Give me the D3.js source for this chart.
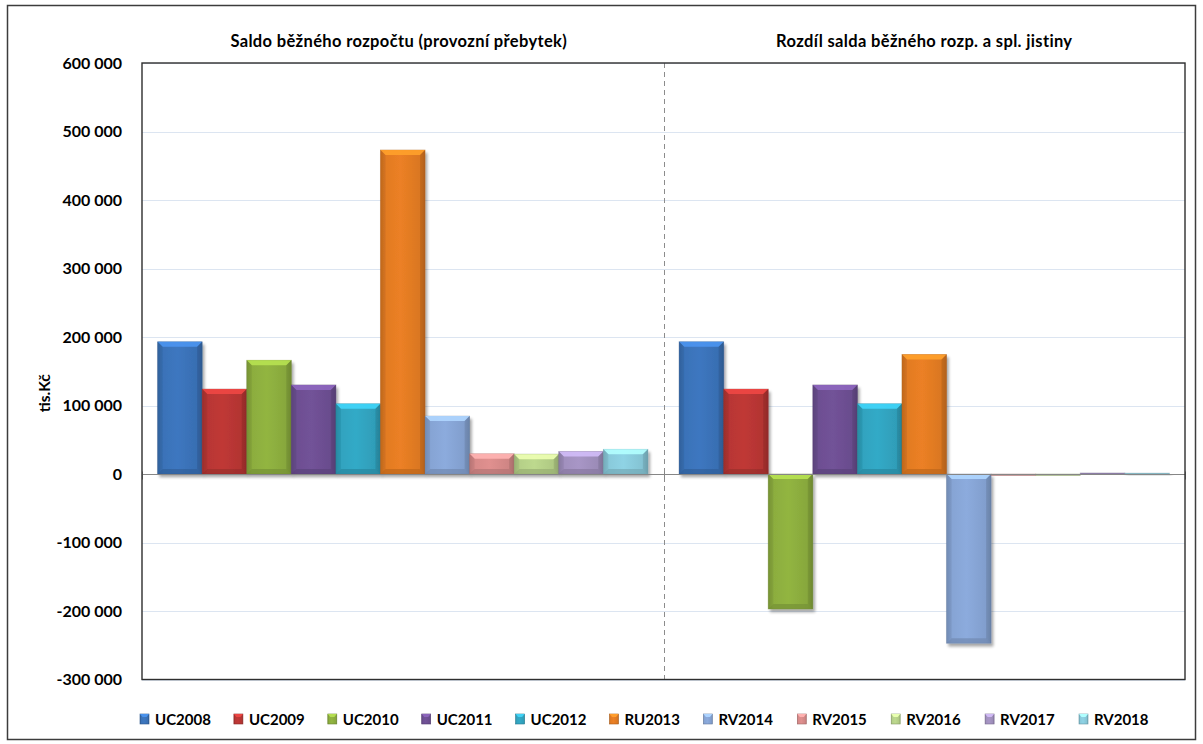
<!DOCTYPE html>
<html>
<head>
<meta charset="utf-8">
<script src="https://cdn.jsdelivr.net/npm/d3@7"></script>
<style>
  html, body { margin: 0; padding: 0; background: #fff; }
  svg { display: block; font-family: Lato, "Open Sans", "DejaVu Sans", sans-serif; font-weight: 700; }
</style>
</head>
<body>
<svg id="chart" width="1203" height="744"></svg>
<script>
// Panels (categories) of the clustered column chart
const categories = ["Saldo běžného rozpočtu (provozní přebytek)", "Rozdíl salda běžného rozp. a spl. jistiny"];
// Series names, one column per series in each panel
const seriesNames = ["UC2008", "UC2009", "UC2010", "UC2011", "UC2012", "RU2013", "RV2014", "RV2015", "RV2016", "RV2017", "RV2018"];
// Values in tis. Kč, per series: [provozní přebytek, rozdíl po splátkách jistiny]
const UC2008 = [193000, 193000];
const UC2009 = [124000, 124000];
const UC2010 = [166000, -197000];
const UC2011 = [130000, 130000];
const UC2012 = [102500, 102500];
const RU2013 = [473000, 174500];
const RV2014 = [84500, -247000];
const RV2015 = [29500, -1800];
const RV2016 = [29000, -2200];
const RV2017 = [33000, 1500];
const RV2018 = [36000, 1200];
const seriesValues = [UC2008, UC2009, UC2010, UC2011, UC2012, RU2013, RV2014, RV2015, RV2016, RV2017, RV2018];
// Value-axis ticks and title
const yTicks = [-300000, -200000, -100000, 0, 100000, 200000, 300000, 400000, 500000, 600000];
const yTitle = "tis.Kč";
// Base fill colours of the series
const seriesColors = ["#3a72b8", "#b83634", "#8cad3e", "#6d4f92", "#31a3bf", "#e27b23", "#86a4d4", "#d78a89", "#b5d088", "#a190be", "#89cadb"];

const svg = d3.select("#chart");
const plot = { left: 142, right: 1185, top: 63, bottom: 679.5 };

const fmt = v => {
  const s = d3.format(",")(Math.abs(v)).replace(/,/g, " ");
  return (v < 0 ? "-" : "") + s;
};

const y = d3.scaleLinear().domain([-300000, 600000]).range([plot.bottom, plot.top]);
const x0 = d3.scaleBand().domain(categories).range([plot.left, plot.right]).paddingInner(0).paddingOuter(0);
const x1 = d3.scaleBand().domain(seriesNames).range([0, x0.bandwidth()]).paddingInner(0).paddingOuter(0.35);

const defs = svg.append("defs");
const shadow = defs.append("filter").attr("id", "shadow").attr("x", "-20%").attr("y", "-20%").attr("width", "150%").attr("height", "150%");
shadow.append("feGaussianBlur").attr("in", "SourceAlpha").attr("stdDeviation", 1.6).attr("result", "b");
shadow.append("feOffset").attr("in", "b").attr("dx", 2).attr("dy", 3).attr("result", "o");
shadow.append("feComponentTransfer").attr("in", "o").attr("result", "s")
  .append("feFuncA").attr("type", "linear").attr("slope", 0.35);
const merge = shadow.append("feMerge");
merge.append("feMergeNode").attr("in", "s");
merge.append("feMergeNode").attr("in", "SourceGraphic");

seriesColors.forEach((c, i) => {
  const base = d3.color(c);
  const g = defs.append("linearGradient").attr("id", "grad" + i).attr("x1", "0").attr("x2", "1").attr("y1", "0").attr("y2", "0");
  g.append("stop").attr("offset", "0%").attr("stop-color", base.darker(0.55));
  g.append("stop").attr("offset", "12%").attr("stop-color", base);
  g.append("stop").attr("offset", "45%").attr("stop-color", base.brighter(0.12));
  g.append("stop").attr("offset", "88%").attr("stop-color", base.darker(0.1));
  g.append("stop").attr("offset", "100%").attr("stop-color", base.darker(0.6));
});

// Outer chart frame
svg.append("rect").attr("x", 7.5).attr("y", 5.5).attr("width", 1188).attr("height", 734)
  .attr("fill", "#fff").attr("stroke", "#3c3c3c").attr("stroke-width", 1.5);

// Gridlines
svg.append("g").selectAll("line").data(yTicks).join("line")
  .attr("x1", plot.left).attr("x2", plot.right)
  .attr("y1", d => Math.round(y(d)) + 0.5).attr("y2", d => Math.round(y(d)) + 0.5)
  .attr("stroke", "#dce5f1").attr("stroke-width", 1.2);

// Divider between panels
svg.append("line")
  .attr("x1", Math.round(x0(categories[1])) + 0.5).attr("x2", Math.round(x0(categories[1])) + 0.5)
  .attr("y1", plot.top).attr("y2", plot.bottom)
  .attr("stroke", "#8c8c8c").attr("stroke-width", 1).attr("stroke-dasharray", "5,4");

// Bars with bevel and shadow
function drawBar(g, bx, by, bw, bh, i) {
  const base = d3.color(seriesColors[i]);
  const grp = g.append("g").attr("filter", "url(#shadow)");
  grp.append("rect").attr("x", bx).attr("y", by).attr("width", bw).attr("height", bh)
    .attr("fill", bh > 3 ? `url(#grad${i})` : base.darker(0.3))
    .attr("stroke", base.darker(0.9)).attr("stroke-opacity", 0.45).attr("stroke-width", 0.8);
  if (bh > 6) {
    const b = Math.min(5, bh / 3);
    grp.append("path")
      .attr("d", `M${bx},${by}L${bx + bw},${by}L${bx + bw - b},${by + b}L${bx + b},${by + b}Z`)
      .attr("fill", base.brighter(0.75)).attr("opacity", 0.9);
    grp.append("path")
      .attr("d", `M${bx},${by + bh}L${bx + bw},${by + bh}L${bx + bw - b},${by + bh - b}L${bx + b},${by + bh - b}Z`)
      .attr("fill", base.darker(0.5)).attr("opacity", 0.7);
    grp.append("path")
      .attr("d", `M${bx},${by}L${bx + b},${by + b}L${bx + b},${by + bh - b}L${bx},${by + bh}Z`)
      .attr("fill", base.darker(0.35)).attr("opacity", 0.45);
    grp.append("path")
      .attr("d", `M${bx + bw},${by}L${bx + bw - b},${by + b}L${bx + bw - b},${by + bh - b}L${bx + bw},${by + bh}Z`)
      .attr("fill", base.darker(0.7)).attr("opacity", 0.45);
  }
}

const barsG = svg.append("g");
categories.forEach((cat, ci) => {
  seriesNames.forEach((s, si) => {
    const v = seriesValues[si][ci];
    const bx = x0(cat) + x1(s);
    const by = Math.min(y(v), y(0));
    const bh = Math.max(Math.abs(y(v) - y(0)), 1.5);
    drawBar(barsG, bx, by, x1.bandwidth(), bh, si);
  });
});

// Category axis at zero with tick marks between panels
const xAxisG = svg.append("g").attr("transform", `translate(0,${Math.round(y(0)) + 0.5})`);
xAxisG.append("line").attr("x1", plot.left).attr("x2", plot.right).attr("stroke", "#868686").attr("stroke-width", 1);
xAxisG.selectAll(".tk").data([plot.left, x0(categories[1]), plot.right]).join("line")
  .attr("x1", d => Math.round(d) + 0.5).attr("x2", d => Math.round(d) + 0.5)
  .attr("y1", -3).attr("y2", 5).attr("stroke", "#868686");

// Plot area border
svg.append("rect").attr("x", plot.left).attr("y", plot.top)
  .attr("width", plot.right - plot.left).attr("height", plot.bottom - plot.top)
  .attr("fill", "none").attr("stroke", "#2e2e2e").attr("stroke-width", 1.4);

// Value axis labels
const yAxis = d3.axisLeft(y).tickValues(yTicks).tickFormat(fmt).tickSize(0).tickPadding(20);
const yG = svg.append("g").attr("transform", `translate(${plot.left},0)`).call(yAxis);
yG.select(".domain").remove();
yG.selectAll("text").attr("font-family", "Lato, sans-serif").attr("font-weight", 700)
  .attr("font-size", 16).attr("fill", "#000");

// Axis title
svg.append("text").attr("transform", `translate(50,${(plot.top + plot.bottom) / 2 + 22}) rotate(-90)`)
  .attr("text-anchor", "middle").attr("font-size", 15.5).attr("fill", "#000").text(yTitle);

// Panel titles (category labels placed above the plot)
svg.append("g").selectAll("text").data(categories).join("text")
  .attr("x", d => x0(d) + x0.bandwidth() / 2 - (d === categories[0] ? 4 : 0))
  .attr("y", 47).attr("text-anchor", "middle").attr("font-size", 16.5)
  .attr("letter-spacing", 0.35).attr("fill", "#000")
  .text(d => d);

// Legend
const lx = d3.scaleBand().domain(seriesNames).range([140, 140 + 11 * 93.9]);
const leg = svg.append("g").selectAll("g").data(seriesNames).join("g")
  .attr("transform", d => `translate(${lx(d)},714)`);
leg.each(function (d, i) {
  const g = d3.select(this);
  const base = d3.color(seriesColors[i]);
  g.append("rect").attr("width", 9).attr("height", 10).attr("fill", `url(#grad${i})`)
    .attr("stroke", base.darker(0.8)).attr("stroke-width", 0.6);
  g.append("path").attr("d", "M0,0L9,0L6.5,3L2.5,3Z").attr("fill", base.brighter(0.7));
  g.append("text").attr("x", 15).attr("y", 11).attr("font-size", 15).attr("fill", "#000").text(d);
});
</script>
</body>
</html>
